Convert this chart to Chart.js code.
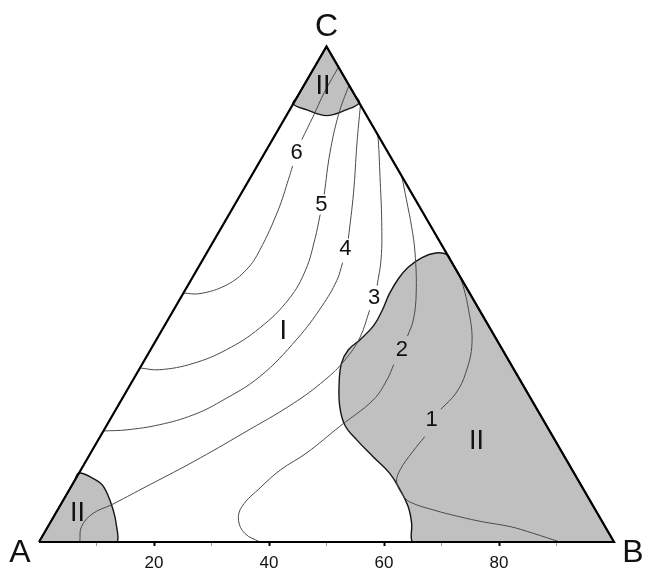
<!DOCTYPE html>
<html>
<head>
<meta charset="utf-8">
<script src="https://cdn.jsdelivr.net/npm/chart.js@4.4.1/dist/chart.umd.min.js"></script>
<style>
    html, body { margin: 0; padding: 0; background: #fff; }
    #wrap { width: 648px; height: 571px; }
</style>
</head>
<body>
<div id="wrap"><canvas id="ternaryChart"></canvas></div>
<script>
// x = share of B along the base (0..100), y = height in the same units (apex at 86.6)
var triangle = [[0, 0], [100, 0], [50, 86.6], [0, 0]];

// grey two-phase regions (II)
var capA = [[0, 0], [12.2, 0], [13.6, 0], [13.5, 2.7], [12.9, 5.6], [11.2, 9.7], [9.4, 11.1], [6.96, 12.06], [6.2, 10.74], [0, 0]];
var capC = [[50, 86.6], [55.0, 77.94], [55.7, 76.73], [53.4, 75.5], [50, 74.5], [46.6, 75.5], [44.2, 76.56], [44.9, 77.77], [50, 86.6]];
var regionB = [[100, 0], [73.0, 46.77], [71.6, 49.19], [71.0, 50.23], [69.0, 50.5], [66.6, 49.7], [64.2, 48.0],
    [62.5, 46.0], [60.9, 43.3], [59.7, 40.5], [58.2, 37.8], [55.8, 35.3], [53.8, 33.6], [52.6, 31.2], [52.2, 27.7],
    [52.3, 23.7], [53.2, 20.4], [55.3, 17.8], [58.1, 14.9], [61.0, 12.0], [62.8, 9.1], [64.2, 6.2], [64.8, 3.3],
    [64.9, 0], [66.4, 0], [68.0, 0], [100, 0]];

// iso-lines, null = gap for the number label
var contour1 = [[90.6, 0], [86.0, 1.5], [81.9, 2.7], [77.3, 3.5], [73.2, 4.4], [68.6, 5.6], [64.5, 7.0], [63.2, 8.3],
    [62.2, 10.5], [62.8, 12.6], [65.0, 15.8], [67.1, 18.4], null,
    [69.9, 23.2], [72.5, 26.0], [74.2, 29.5], [75.3, 34.7], [74.7, 40.6], [73.2, 46.4], [71.8, 48.9]];
var contour2 = [[38.4, 0], [35.8, 1.5], [34.7, 3.8], [35.3, 6.2], [38.6, 9.6], [42.0, 12.6], [46.6, 15.6], [52.3, 20.2],
    [58.1, 24.8], [60.5, 28.3], [61.7, 31.0], null,
    [64.1, 36.0], [65.1, 38.8], [65.6, 43.5], [65.4, 50.5], [64.8, 55.1], [63.9, 59.8], [63.1, 63.9]];
var contour3 = [[7.1, 0], [7.4, 2.7], [9.4, 5.0], [12.6, 6.5], [18.1, 9.4], [26.8, 14.0], [35.5, 19.0], [44.2, 24.2],
    [49.7, 28.3], [53.2, 31.8], [55.8, 35.7], [57.5, 40.5], null,
    [58.8, 44.8], [59.5, 49.5], [59.6, 56.0], [59.3, 63.9], [59.0, 70.3], [58.8, 71.4]];
var contour4 = [[11.2, 19.4], [15.3, 19.6], [21.0, 20.5], [26.8, 22.2], [31.5, 24.5], [38.4, 28.9], [44.9, 35.5],
    [49.2, 41.2], [51.8, 45.7], [52.8, 48.8], null,
    [53.8, 53.0], [54.7, 61.0], [55.3, 69.7], [55.9, 76.3]];
var contour5 = [[17.6, 30.4], [21.0, 30.1], [26.8, 31.2], [32.6, 33.6], [38.4, 37.4], [43.5, 42.5], [46.4, 47.6],
    [48.0, 53.0], [48.9, 57.2], null,
    [49.6, 60.7], [50.6, 68.0], [52.1, 74.7], [53.9, 79.8]];
var contour6 = [[25.1, 43.5], [28.0, 43.4], [32.6, 44.9], [36.1, 47.6], [38.4, 51.0], [41.6, 58.0], [43.4, 63.4],
    [44.1, 65.7], null,
    [45.7, 70.3], [47.7, 74.4], [49.6, 78.5], [52.1, 83.0]];

// labels
var levelText = ['1', '2', '3', '4', '5', '6'];
var levelX = [68.3, 63.1, 58.3, 53.3, 49.1, 44.8];
var levelY = [21.3, 33.6, 42.7, 51.2, 58.9, 67.9];
var phaseText = ['I', 'II', 'II', 'II'];
var phaseX = [42.5, 76.1, 6.7, 49.4];
var phaseY = [36.8, 17.5, 5.0, 79.6];
var cornerText = ['A', 'B', 'C'];
var cornerX = [-3.3, 103.3, 50.0];
var cornerY = [-1.9, -1.9, 90.0];

// bottom axis
var tickValues = [0, 10, 20, 30, 40, 50, 60, 70, 80, 90, 100];
var tickLabels = [20, 40, 60, 80];

var FONT = "'Liberation Sans', Arial, sans-serif";

function toPoints(pairs) {
    return pairs.map(function (p) {
        return p ? {x: p[0], y: p[1]} : {x: null, y: null};
    });
}

function regionSet(pairs) {
    return {
        data: toPoints(pairs),
        borderColor: '#151515',
        borderWidth: 1.4,
        backgroundColor: '#c0c0c0',
        fill: 'shape',
        tension: 0.4,
        order: 2
    };
}

function contourSet(pairs) {
    return {
        data: toPoints(pairs),
        borderColor: '#4a4a4a',
        borderWidth: 1,
        fill: false,
        spanGaps: false,
        tension: 0.4,
        order: 1
    };
}

// writes the corner, phase and level labels at data positions
var ternaryText = {
    id: 'ternaryText',
    afterDatasetsDraw: function (chart) {
        var ctx = chart.ctx;
        var sx = chart.scales.x;
        var sy = chart.scales.y;
        ctx.save();
        ctx.fillStyle = '#111';
        ctx.textAlign = 'center';
        ctx.textBaseline = 'middle';

        ctx.font = '22px ' + FONT;
        for (var i = 0; i < levelText.length; i++) {
            ctx.fillText(levelText[i], sx.getPixelForValue(levelX[i]), sy.getPixelForValue(levelY[i]));
        }
        ctx.font = '27px ' + FONT;
        for (var j = 0; j < phaseText.length; j++) {
            ctx.fillText(phaseText[j], sx.getPixelForValue(phaseX[j]), sy.getPixelForValue(phaseY[j]));
        }
        ctx.font = '32px ' + FONT;
        for (var k = 0; k < cornerText.length; k++) {
            ctx.fillText(cornerText[k], sx.getPixelForValue(cornerX[k]), sy.getPixelForValue(cornerY[k]));
        }
        ctx.restore();
    }
};

var datasets = [
    {
        data: toPoints(triangle),
        borderColor: '#000',
        borderWidth: 2.2,
        fill: false,
        tension: 0,
        clip: false,
        order: 0
    },
    contourSet(contour1),
    contourSet(contour2),
    contourSet(contour3),
    contourSet(contour4),
    contourSet(contour5),
    contourSet(contour6),
    regionSet(regionB),
    regionSet(capA),
    regionSet(capC)
];

new Chart(document.getElementById('ternaryChart'), {
    type: 'line',
    data: {datasets: datasets},
    plugins: [ternaryText],
    options: {
        responsive: true,
        maintainAspectRatio: false,
        animation: false,
        events: [],
        elements: {point: {radius: 0}},
        layout: {padding: {left: 39, right: 34, top: 4, bottom: 0}},
        plugins: {legend: {display: false}, tooltip: {enabled: false}},
        scales: {
            x: {
                type: 'linear',
                min: 0,
                max: 100,
                afterBuildTicks: function (scale) {
                    scale.ticks = tickValues.map(function (v) { return {value: v}; });
                },
                afterFit: function (scale) { scale.height = 29; },
                border: {display: false},
                grid: {
                    drawOnChartArea: false,
                    drawTicks: true,
                    tickLength: 4,
                    tickWidth: function (c) { return tickLabels.indexOf(c.tick.value) >= 0 ? 2 : 1; },
                    tickColor: function (c) {
                        if (c.tick.value === 0 || c.tick.value === 100) return 'rgba(0,0,0,0)';
                        return tickLabels.indexOf(c.tick.value) >= 0 ? '#000' : '#999';
                    }
                },
                ticks: {
                    autoSkip: false,
                    maxRotation: 0,
                    padding: 7,
                    color: '#111',
                    font: {size: 17, family: FONT},
                    callback: function (v) { return tickLabels.indexOf(v) >= 0 ? String(v) : ''; }
                }
            },
            y: {
                type: 'linear',
                min: 0,
                max: 94,
                display: false
            }
        }
    }
});
</script>
</body>
</html>
